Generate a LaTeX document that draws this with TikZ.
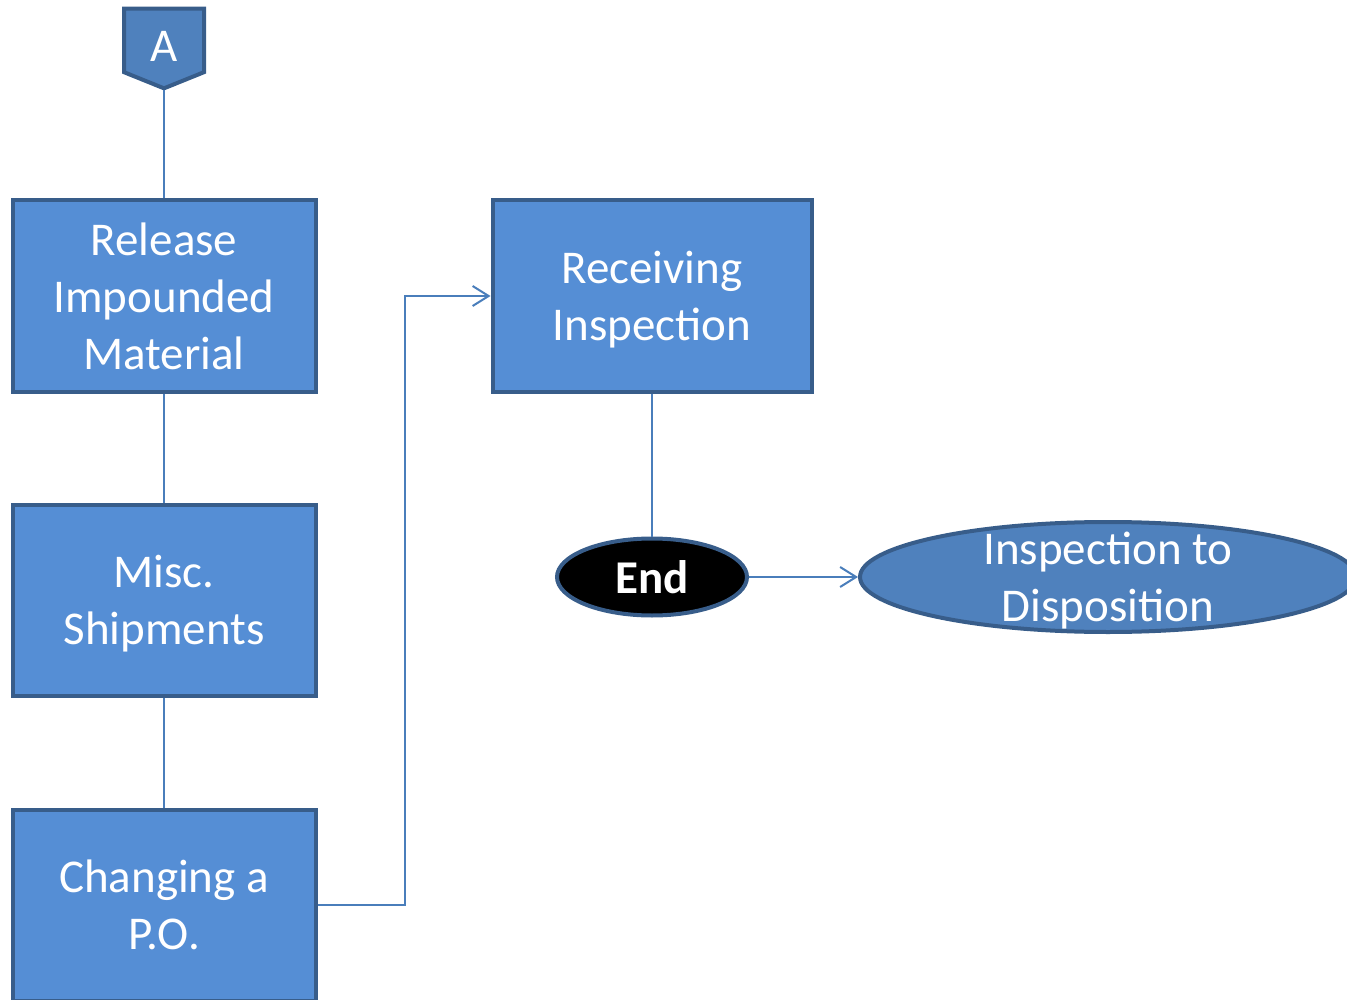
\documentclass[tikz,border=0pt]{standalone}
\usepackage{fontspec}
\usepackage{amsmath}
\setmainfont{Carlito}
\usetikzlibrary{positioning,shapes.geometric,shapes.symbols,arrows.meta}
\definecolor{boxfill}{RGB}{85,142,213}
\definecolor{boxline}{RGB}{56,93,138}
\definecolor{ovalfill}{RGB}{79,129,189}
\definecolor{wire}{RGB}{74,126,187}

\begin{document}
\begin{tikzpicture}[x=1pt,y=-1pt,
		font=\fontsize{47}{57}\selectfont,
		procbox/.style={rectangle,draw=boxline,fill=boxfill,line width=4pt,text=white,align=center,inner sep=0pt,minimum width=303pt,minimum height=191pt},
		offpage/.style={signal,signal to=south,signal from=nowhere,signal pointer angle=136,draw=boxline,fill=ovalfill,line width=4pt,text=white,inner sep=0pt,minimum width=80pt,minimum height=69pt},
		oval/.style={ellipse,draw=boxline,line width=4pt,inner sep=0pt},
		link/.style={draw=wire,line width=2pt},
		>={Straight Barb[length=16pt,width=20pt,line width=2pt]}
	]
	\useasboundingbox (0,0) rectangle (1347,1000);

	\node[procbox] (rel) at (164,296) {Release\\Impounded\\Material};
	\node[procbox, below=109pt of rel] (misc) {Misc.\\\smash[b]{Shipments}};
	\node[procbox, below=110pt of misc] (po) {Changing a\\P.O.};
	\node[offpage, above=108pt of rel] (A) {\raisebox{-6pt}[\height][\depth]{A}};
	\node[procbox, minimum width=319pt, right=173pt of rel] (recv) {Receiving\\\smash[b]{Inspection}};
	\node[oval, fill=black, text=white, font=\fontsize{47}{57}\selectfont\bfseries, minimum width=190pt, minimum height=77pt, below=143pt of recv] (end) {End};
	\node[oval, fill=ovalfill, minimum width=496pt, minimum height=110pt, right=109pt of end,
		label={[text=white,align=center]center:Inspection to\\\smash[b]{Disposition}}] (disp) {};

	\draw[link] (A.south) -- (rel.north);
	\draw[link] (rel.south) -- (misc.north);
	\draw[link] (misc.south) -- (po.north);
	\draw[link,->] (po.east) -- ++(87,0) |- (recv.west);
	\draw[link] (recv.south) -- (end.north);
	\draw[link,->] (end.east) -- (disp.west);
\end{tikzpicture}
\end{document}
